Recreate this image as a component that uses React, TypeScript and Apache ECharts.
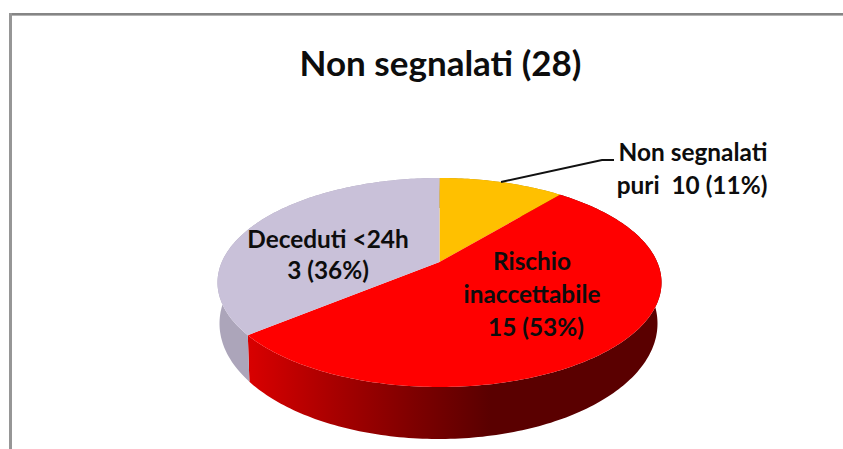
import React, { useEffect, useRef } from "react";
import * as echarts from "echarts";

const titleText = "Non segnalati (28)";
const categories = ["Non segnalati puri", "Rischio inaccettabile", "Deceduti <24h"];
const counts = [10, 15, 3];
const percents = [11, 53, 36];
const topColors = ["#ffc000", "#ff0000", "#c9c1d9"];

const FONT = "Lato";
const TOP = { cx: 439.5, cy: 282.5, rx: 222, ry: 104.5 };
const BOTTOM = { cx: 438.5, cy: 323.5, rx: 219, ry: 115.5 };
const PERSPECTIVE = 0.196;

function rim(e: { cx: number; cy: number; rx: number; ry: number }, share: number): number[] {
  const t = share * 2 * Math.PI;
  const d = PERSPECTIVE;
  const v = -Math.cos(t);
  const den = 1 - d * v;
  const X = (Math.sqrt(1 - d * d) * Math.sin(t)) / den;
  const Y = (v - d) / den;
  return [e.cx + e.rx * X, e.cy + e.ry * Y];
}

function range(i: number): number[] {
  const total = percents.reduce((a, b) => a + b, 0);
  const start = percents.slice(0, i).reduce((a, b) => a + b, 0) / total;
  return [start, start + percents[i] / total];
}

function arc(e: typeof TOP, a: number, b: number): number[][] {
  const steps = Math.max(8, Math.ceil((b - a) * 360));
  const pts: number[][] = [];
  for (let k = 0; k <= steps; k++) pts.push(rim(e, a + ((b - a) * k) / steps));
  return pts;
}

function sideFill(i: number) {
  if (i === 1) {
    return new echarts.graphic.LinearGradient(
      250, 0, 490, 0,
      [
        { offset: 0, color: "#d80000" },
        { offset: 0.35, color: "#a80000" },
        { offset: 0.7, color: "#7c0000" },
        { offset: 1, color: "#5a0000" },
      ],
      true
    );
  }
  if (i === 2) return "#aca5ba";
  return "#b38600";
}

const renderSide = (params: any) => {
  const [a, b] = range(params.dataIndex);
  const pts = [...arc(TOP, a, b), ...arc(BOTTOM, a, b).reverse()];
  return { type: "polygon", shape: { points: pts }, style: { fill: sideFill(params.dataIndex) } };
};

const renderTop = (params: any) => {
  const i = params.dataIndex;
  const [a, b] = range(i);
  const apex = [TOP.cx, TOP.cy - TOP.ry * PERSPECTIVE];
  return {
    type: "polygon",
    shape: { points: [apex, ...arc(TOP, a, b)] },
    style: { fill: topColors[i] },
  };
};

const textEl = (text: string, x: number, y: number, fontSize = 24.4) => ({
  type: "text",
  x,
  y,
  z: 10,
  style: {
    text,
    fontFamily: FONT,
    fontWeight: "bold",
    fontSize,
    fill: "#0d0d0d",
    align: "center",
    verticalAlign: "middle",
  },
});

export default function App() {
  const ref = useRef<HTMLDivElement>(null);
  useEffect(() => {
    const chart = echarts.init(ref.current!, null, { renderer: "svg" });
    const seriesData = categories.map((name, i) => ({ name, value: percents[i] }));
    chart.setOption({
      animation: false,
      backgroundColor: "#ffffff",
      title: {
        text: titleText,
        left: 435.5,
        top: 39,
        textAlign: "center",
        textStyle: { fontFamily: FONT, fontWeight: "bold", fontSize: 35, color: "#0d0d0d" },
      },
      series: [
        { type: "custom", coordinateSystem: "none", renderItem: renderSide, data: seriesData, z: 1, silent: true },
        { type: "custom", coordinateSystem: "none", renderItem: renderTop, data: seriesData, z: 2, silent: true },
      ],
      graphic: [
        { type: "rect", shape: { x: 9, y: 13, width: 834, height: 2 }, style: { fill: "#858585" } },
        { type: "rect", shape: { x: 9, y: 15, width: 834, height: 1 }, style: { fill: "#b4b4b4" } },
        { type: "rect", shape: { x: 9, y: 13, width: 3, height: 436 }, style: { fill: "#969696" } },
        {
          type: "polyline",
          z: 10,
          shape: { points: [[501, 182], [602, 160], [614, 160]] },
          style: { stroke: "#111111", lineWidth: 2, fill: "none" },
        },
        textEl("Non segnalati", 693, 151),
        textEl(`puri  ${counts[0]} (${percents[0]}%)`, 692, 184),
        textEl("Rischio", 532, 260),
        textEl("inaccettabile", 532, 293),
        textEl(`${counts[1]} (${percents[1]}%)`, 536, 326),
        textEl("Deceduti <24h", 328, 238),
        textEl(`${counts[2]} (${percents[2]}%)`, 328, 269),
      ],
    });
    return () => chart.dispose();
  }, []);
  return <div ref={ref} style={{ position: "absolute", left: 0, top: 0, width: 843, height: 449 }} />;
}
